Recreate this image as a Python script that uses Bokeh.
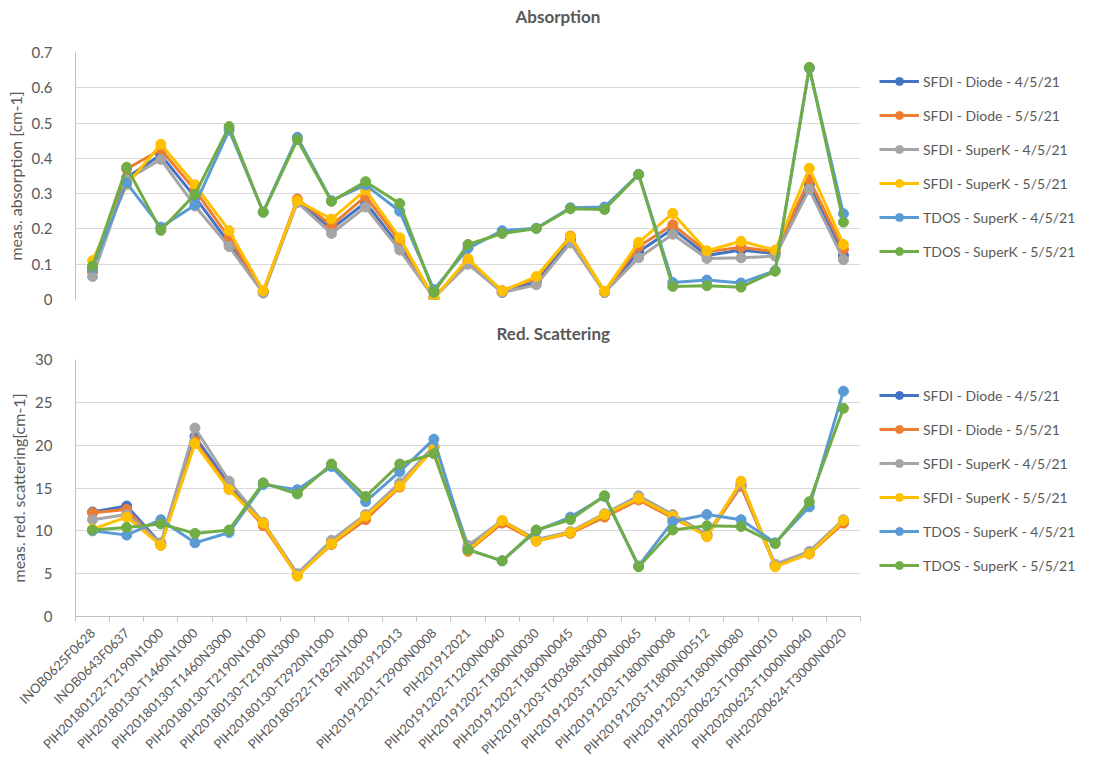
import numpy as np
from bokeh.plotting import figure
from bokeh.layouts import column
from bokeh.models import (ColumnDataSource, Range1d, FixedTicker, CustomJSTickFormatter,
                          Legend, LegendItem)
from bokeh.embed import file_html
from bokeh.resources import INLINE

categories = [
    "INOB0625F0628", "INOB0643F0637", "PIH20180122-T2190N1000", "PIH20180130-T1460N1000",
    "PIH20180130-T1460N3000", "PIH20180130-T2190N1000", "PIH20180130-T2190N3000",
    "PIH20180130-T2920N1000", "PIH20180522-T1825N1000", "PIH201912013",
    "PIH20191201-T2900N0008", "PIH201912021", "PIH20191202-T1200N0040",
    "PIH20191202-T1800N0030", "PIH20191202-T1800N0045", "PIH20191203-T00368N3000",
    "PIH20191203-T1000N0065", "PIH20191203-T1800N0008", "PIH20191203-T1800N00512",
    "PIH20191203-T1800N0080", "PIH20200623-T1000N0010", "PIH20200623-T1000N0040",
    "PIH20200624-T3000N0020",
]

series_names = ["SFDI - Diode - 4/5/21", "SFDI - Diode - 5/5/21", "SFDI - SuperK - 4/5/21",
                "SFDI - SuperK - 5/5/21", "TDOS - SuperK - 4/5/21", "TDOS - SuperK - 5/5/21"]
colors = ["#4472C4", "#ED7D31", "#A5A5A5", "#FFC000", "#5B9BD5", "#70AD47"]

abs_diode_4 = [0.080, 0.345, 0.410, 0.290, 0.160, 0.020, 0.280, 0.200, 0.275, 0.150, 0.005, 0.105,
               0.020, 0.050, 0.170, 0.020, 0.135, 0.200, 0.125, 0.140, 0.130, 0.325, 0.125]
abs_diode_5 = [0.085, 0.370, 0.425, 0.310, 0.175, 0.022, 0.285, 0.210, 0.292, 0.165, 0.005, 0.110,
               0.025, 0.060, 0.180, 0.022, 0.150, 0.212, 0.135, 0.148, 0.135, 0.340, 0.142]
abs_superk_4 = [0.065, 0.340, 0.397, 0.265, 0.150, 0.018, 0.275, 0.187, 0.262, 0.140, 0.005, 0.100,
                0.020, 0.042, 0.160, 0.020, 0.118, 0.185, 0.116, 0.118, 0.123, 0.312, 0.113]
abs_superk_5 = [0.110, 0.325, 0.440, 0.325, 0.195, 0.025, 0.280, 0.228, 0.310, 0.175, 0.003, 0.116,
                0.024, 0.065, 0.178, 0.023, 0.162, 0.244, 0.138, 0.165, 0.140, 0.372, 0.156]
abs_tdos_4 = [0.090, 0.330, 0.205, 0.268, 0.480, 0.248, 0.460, 0.280, 0.325, 0.250, 0.028, 0.145,
              0.195, 0.202, 0.260, 0.262, 0.355, 0.048, 0.055, 0.047, 0.082, 0.655, 0.243]
abs_tdos_5 = [0.095, 0.375, 0.196, 0.298, 0.490, 0.247, 0.453, 0.278, 0.334, 0.272, 0.020, 0.156,
              0.187, 0.201, 0.257, 0.255, 0.354, 0.037, 0.039, 0.035, 0.080, 0.658, 0.219]

sca_diode_4 = [12.2, 12.9, 8.5, 21.0, 15.4, 10.8, 4.9, 8.6, 11.6, 15.3, 19.8, 8.0,
               11.0, 8.9, 9.8, 11.8, 13.8, 11.7, 9.4, 15.3, 5.9, 7.4, 11.0]
sca_diode_5 = [12.1, 12.5, 8.3, 20.5, 15.0, 10.6, 4.8, 8.4, 11.3, 15.1, 19.7, 7.6,
               10.9, 8.8, 9.7, 11.6, 13.6, 11.5, 9.5, 15.2, 6.0, 7.3, 10.9]
sca_superk_4 = [11.3, 11.9, 8.6, 22.0, 15.8, 11.0, 5.0, 8.9, 11.9, 15.6, 19.9, 8.3,
                11.2, 9.0, 9.9, 12.0, 14.1, 11.9, 9.6, 15.5, 6.1, 7.6, 11.3]
sca_superk_5 = [10.2, 11.6, 8.3, 20.2, 14.8, 10.9, 4.7, 8.5, 11.7, 15.2, 19.6, 7.7,
                11.2, 8.8, 9.8, 11.9, 13.8, 11.7, 9.3, 15.8, 5.8, 7.3, 11.2]
sca_tdos_4 = [10.0, 9.5, 11.3, 8.6, 9.8, 15.4, 14.8, 17.5, 13.4, 16.9, 20.7, 7.8,
              6.5, 10.0, 11.6, 14.0, 5.9, 11.1, 11.9, 11.3, 8.6, 12.8, 26.3]
sca_tdos_5 = [10.1, 10.4, 10.8, 9.7, 10.1, 15.6, 14.3, 17.8, 14.0, 17.8, 19.0, 7.8,
              6.5, 10.1, 11.3, 14.1, 5.8, 10.1, 10.6, 10.5, 8.5, 13.4, 24.3]

abs_ticks = [0, 0.1, 0.2, 0.3, 0.4, 0.5, 0.6, 0.7]
sca_ticks = [0, 5, 10, 15, 20, 25, 30]

FONT = "Lato"
TXT = "#595959"
n = len(categories)
xpos = np.arange(n) + 0.5


def make_fig(title, title_offset, title_standoff, ylabel, series, yticks, ymax,
             frame_h, top, bottom, show_x, legend_loc):
    p = figure(output_backend="svg", toolbar_location=None,
               frame_width=785, frame_height=frame_h,
               x_range=Range1d(0, n), y_range=Range1d(0, ymax),
               min_border_left=75, min_border_right=10,
               min_border_top=top, min_border_bottom=bottom)
    p.outline_line_color = None
    p.background_fill_color = "white"
    p.border_fill_color = "white"

    p.title.text = title
    p.title.align = "left"
    p.title.vertical_align = "top"
    p.title.offset = title_offset
    p.title.text_font = FONT
    p.title.text_font_size = "17px"
    p.title.text_font_style = "bold"
    p.title.text_color = TXT
    p.title.standoff = title_standoff

    p.xgrid.visible = False
    p.ygrid.grid_line_color = "#D9D9D9"
    p.ygrid.grid_line_width = 1

    p.yaxis.ticker = FixedTicker(ticks=yticks)
    p.yaxis.major_label_overrides = {0: "0"}
    p.yaxis.axis_line_color = "#BFBFBF"
    p.yaxis.major_tick_line_color = None
    p.yaxis.minor_tick_line_color = None
    p.yaxis.major_label_standoff = 17
    p.yaxis.major_label_text_font = FONT
    p.yaxis.major_label_text_font_size = "15px"
    p.yaxis.major_label_text_color = TXT
    p.yaxis.axis_label = ylabel
    p.yaxis.axis_label_text_font = FONT
    p.yaxis.axis_label_text_font_size = "16px"
    p.yaxis.axis_label_text_font_style = "normal"
    p.yaxis.axis_label_text_color = TXT
    p.yaxis.axis_label_standoff = 4

    if show_x:
        ax = p.xaxis[0]
        ax.ticker = FixedTicker(ticks=list(xpos), minor_ticks=list(np.arange(n + 1)))
        ax.formatter = CustomJSTickFormatter(args=dict(cats=categories),
                                             code="return cats[Math.floor(tick)];")
        ax.axis_line_color = "#BFBFBF"
        ax.major_tick_line_color = None
        ax.minor_tick_line_color = "#BFBFBF"
        ax.minor_tick_out = 5
        ax.minor_tick_in = 0
        ax.major_label_orientation = np.pi / 4
        ax.major_label_standoff = 8
        ax.major_label_text_font = FONT
        ax.major_label_text_font_size = "13px"
        ax.major_label_text_color = TXT
    else:
        p.xaxis.visible = False

    items = []
    for name, col, vals in zip(series_names, colors, series):
        src = ColumnDataSource(dict(x=xpos, y=vals))
        r1 = p.line("x", "y", source=src, line_color=col, line_width=3)
        r2 = p.scatter("x", "y", source=src, size=10, fill_color=col, line_color=col)
        items.append(LegendItem(label=name, renderers=[r1, r2]))

    leg = Legend(items=items, location=legend_loc)
    leg.border_line_color = None
    leg.background_fill_alpha = 0
    leg.label_text_font = FONT
    leg.label_text_font_size = "14px"
    leg.label_text_color = TXT
    leg.glyph_width = 40
    leg.glyph_height = 20
    leg.spacing = 14
    leg.label_standoff = 4
    leg.padding = 4
    leg.margin = 0
    p.add_layout(leg, "right")
    return p


p1 = make_fig("Absorption\n", 440, 6, "meas. absorption [cm-1]",
              [abs_diode_4, abs_diode_5, abs_superk_4, abs_superk_5, abs_tdos_4, abs_tdos_5],
              abs_ticks, 0.7, 247, 52, 10, False, (19, 38))
p2 = make_fig("Red. Scattering", 421, 27, "meas. red. scattering[cm-1]",
              [sca_diode_4, sca_diode_5, sca_superk_4, sca_superk_5, sca_tdos_4, sca_tdos_5],
              sca_ticks, 30, 257, 50, 141, True, (19, 41))

layout = column(p1, p2, spacing=0)
open("out.html", "w").write(file_html(layout, INLINE))
